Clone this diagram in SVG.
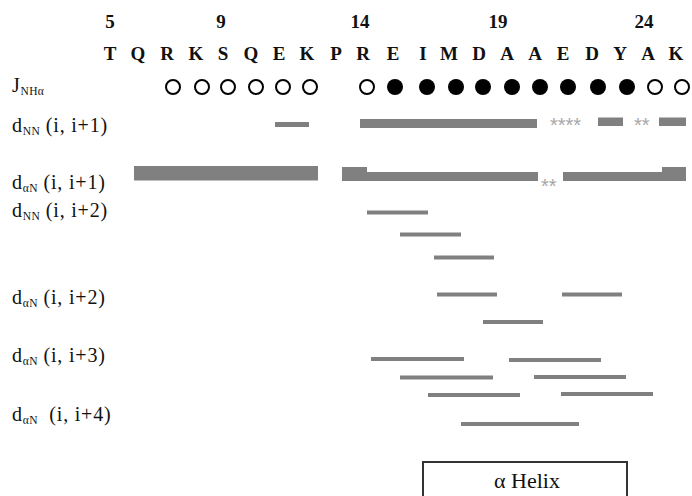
<svg xmlns="http://www.w3.org/2000/svg" width="692" height="496" viewBox="0 0 692 496">
  <style>
    .num { font: bold 19px "Liberation Serif", serif; text-anchor: middle; fill: #111; }
    .res { font: bold 19px "Liberation Serif", serif; text-anchor: middle; fill: #111; }
    .lbl { font: 20px "Liberation Serif", serif; fill: #111; letter-spacing: 0.8px; }
    .sub { font-size: 11.5px; letter-spacing: 0.3px; }
    .bar { fill: #808080; }
    .open { fill: #fff; stroke: #000; stroke-width: 2; }
    .full { fill: #000; }
    .ast { font: 20px "Liberation Sans", sans-serif; fill: #a8a8a8; }
  </style>
  <rect width="692" height="496" fill="#fff"/>

  <!-- residue numbering -->
  <g id="numbers">
    <text class="num" x="110" y="28">5</text>
    <text class="num" x="221" y="28">9</text>
    <text class="num" x="360" y="28">14</text>
    <text class="num" x="498" y="28">19</text>
    <text class="num" x="644" y="28">24</text>
  </g>

  <!-- sequence -->
  <g id="sequence">
    <text class="res" x="110" y="60">T</text>
    <text class="res" x="138" y="60">Q</text>
    <text class="res" x="167" y="60">R</text>
    <text class="res" x="196" y="60">K</text>
    <text class="res" x="223" y="60">S</text>
    <text class="res" x="251" y="60">Q</text>
    <text class="res" x="279" y="60">E</text>
    <text class="res" x="307" y="60">K</text>
    <text class="res" x="336" y="60">P</text>
    <text class="res" x="363" y="60">R</text>
    <text class="res" x="393" y="60">E</text>
    <text class="res" x="423" y="60">I</text>
    <text class="res" x="449" y="60">M</text>
    <text class="res" x="479" y="60">D</text>
    <text class="res" x="507" y="60">A</text>
    <text class="res" x="535" y="60">A</text>
    <text class="res" x="563" y="60">E</text>
    <text class="res" x="592" y="60">D</text>
    <text class="res" x="620" y="60">Y</text>
    <text class="res" x="648" y="60">A</text>
    <text class="res" x="676" y="60">K</text>
  </g>

  <!-- row labels -->
  <g id="labels">
    <text class="lbl" x="12" y="92">J<tspan class="sub" dy="3">NHα</tspan></text>
    <text class="lbl" x="12" y="132">d<tspan class="sub" dy="3">NN</tspan><tspan dy="-3"> (i, i+1)</tspan></text>
    <text class="lbl" x="12" y="189">d<tspan class="sub" dy="3">αN</tspan><tspan dy="-3"> (i, i+1)</tspan></text>
    <text class="lbl" x="12" y="217">d<tspan class="sub" dy="3">NN</tspan><tspan dy="-3"> (i, i+2)</tspan></text>
    <text class="lbl" x="12" y="304">d<tspan class="sub" dy="3">αN</tspan><tspan dy="-3"> (i, i+2)</tspan></text>
    <text class="lbl" x="12" y="362">d<tspan class="sub" dy="3">αN</tspan><tspan dy="-3"> (i, i+3)</tspan></text>
    <text class="lbl" x="12" y="421">d<tspan class="sub" dy="3">αN</tspan><tspan dy="-3" xml:space="preserve">  (i, i+4)</tspan></text>
  </g>

  <!-- J(NH-Hα) coupling markers -->
  <g id="coupling">
    <circle class="open" cx="173" cy="87" r="7"/>
    <circle class="open" cx="202" cy="87" r="7"/>
    <circle class="open" cx="228" cy="87" r="7"/>
    <circle class="open" cx="256" cy="87" r="7"/>
    <circle class="open" cx="283" cy="87" r="7"/>
    <circle class="open" cx="310" cy="87" r="7"/>
    <circle class="open" cx="367" cy="87" r="7"/>
    <circle class="full" cx="395" cy="87" r="8"/>
    <circle class="full" cx="427" cy="87" r="8"/>
    <circle class="full" cx="456" cy="87" r="8"/>
    <circle class="full" cx="483" cy="87" r="8"/>
    <circle class="full" cx="512" cy="87" r="8"/>
    <circle class="full" cx="540" cy="87" r="8"/>
    <circle class="full" cx="568" cy="87" r="8"/>
    <circle class="full" cx="598" cy="87" r="8"/>
    <circle class="full" cx="627" cy="87" r="8"/>
    <circle class="open" cx="655" cy="87" r="7"/>
    <circle class="open" cx="682" cy="87" r="7"/>
  </g>

  <!-- dNN (i, i+1) -->
  <g id="dNN-1">
    <rect class="bar" x="275" y="122" width="34" height="5"/>
    <rect class="bar" x="360" y="119" width="177" height="9"/>
    <text class="ast" x="550" y="132">****</text>
    <rect class="bar" x="598" y="117.5" width="25" height="8.5"/>
    <text class="ast" x="634" y="132">**</text>
    <rect class="bar" x="659" y="117.5" width="27" height="8.5"/>
  </g>

  <!-- dαN (i, i+1) -->
  <g id="daN-1">
    <rect class="bar" x="134" y="166" width="184" height="14.5"/>
    <rect class="bar" x="342" y="167" width="25" height="14"/>
    <rect class="bar" x="367" y="172" width="171" height="9"/>
    <text class="ast" x="541" y="193">**</text>
    <rect class="bar" x="563" y="172" width="100" height="9"/>
    <rect class="bar" x="662" y="167" width="24" height="14"/>
  </g>

  <!-- dNN (i, i+2) -->
  <g id="dNN-2">
    <rect class="bar" x="367" y="210.5" width="61" height="4"/>
    <rect class="bar" x="400" y="232.5" width="61" height="4"/>
    <rect class="bar" x="434" y="255.5" width="60" height="4"/>
  </g>

  <!-- dαN (i, i+2) -->
  <g id="daN-2">
    <rect class="bar" x="437" y="292.5" width="60" height="4"/>
    <rect class="bar" x="562" y="292.5" width="60" height="4"/>
    <rect class="bar" x="483" y="320" width="60" height="4"/>
  </g>

  <!-- dαN (i, i+3) -->
  <g id="daN-3">
    <rect class="bar" x="371" y="357" width="93" height="4"/>
    <rect class="bar" x="509" y="358" width="92" height="4"/>
    <rect class="bar" x="400" y="375.5" width="93" height="4"/>
    <rect class="bar" x="534" y="375" width="92" height="4"/>
    <rect class="bar" x="428" y="393" width="92" height="4"/>
    <rect class="bar" x="561" y="392" width="92" height="4"/>
  </g>

  <!-- dαN (i, i+4) -->
  <g id="daN-4">
    <rect class="bar" x="461" y="422" width="118" height="4"/>
  </g>

  <!-- secondary structure legend -->
  <g id="helix">
    <rect x="423" y="462" width="204" height="50" fill="none" stroke="#333" stroke-width="2"/>
    <text x="527" y="488" text-anchor="middle" font-family="'Liberation Serif', serif" font-size="22" fill="#111">α Helix</text>
  </g>
</svg>
